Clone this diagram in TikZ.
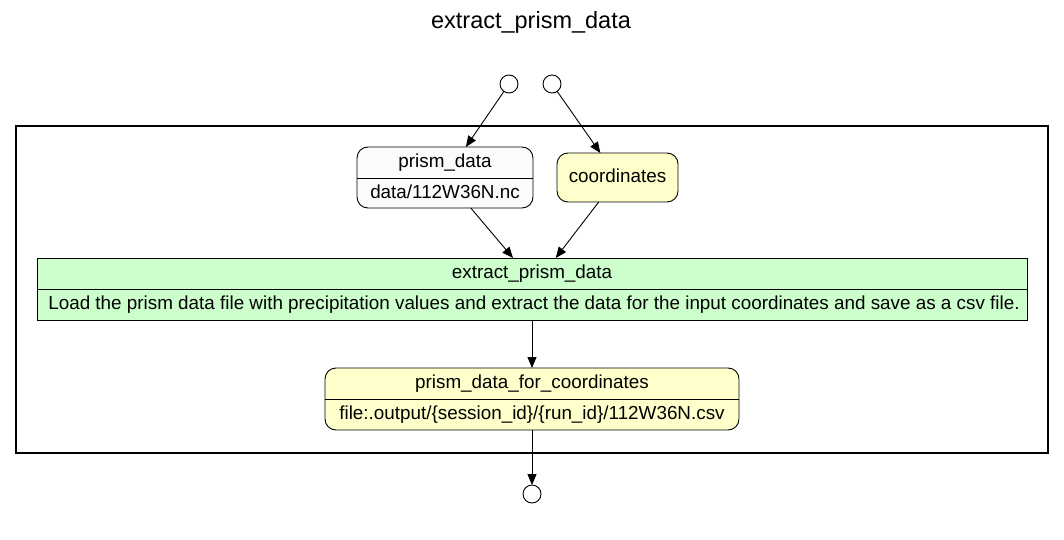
\documentclass[tikz,border=0pt]{standalone}
\usepackage{fontspec}
\setmainfont{Liberation Sans}
\usetikzlibrary{arrows.meta}
\begin{document}
\begin{tikzpicture}[x=1pt,y=-1pt,
  every node/.style={inner sep=0pt, outer sep=0pt},
  box/.style={draw=black, line width=0.9pt, rounded corners=11pt},
  sq/.style={draw=black, line width=0.9pt},
  lbl/.style={font=\fontsize{18.85}{21}\selectfont, text height=13.5pt, text depth=4pt},
  port/.style={circle, draw=black, line width=0.9pt, fill=white, minimum size=18pt},
  arr/.style={draw=black, line width=0.9pt, -{Triangle[length=11pt,width=9pt]}},
  cluster/.style={draw=black, line width=2pt}]
\useasboundingbox (0,0) rectangle (1064,540);
% title
\node[font=\fontsize{23.5}{26}\selectfont] (title) at (531,22) {extract\_prism\_data};
% cluster
\node[cluster, minimum width=1032pt, minimum height=327pt] (clu) at (532,289.5) {};
% input ports
\node[port] (in1) at (509,84) {};
\node[port] (in2) at (552,84) {};
% prism_data
\node[box, fill=black!1.5, minimum width=176pt, minimum height=61pt] (pd) at (445,177.5) {};
\draw[line width=0.9pt] (357,178) -- (533,178);
\node[lbl] (pdt) at (445,163) {prism\_data};
\node[lbl] (pdb) at (445,193.5) {data/112W36N.nc};
% coordinates
\node[box, fill={rgb,255:red,255;green,255;blue,204}, minimum width=121pt, minimum height=49pt] (co) at (617.5,177.5) {};
\node[lbl] (cot) at (617.5,177.5) {coordinates};
% extract_prism_data
\node[sq, fill={rgb,255:red,204;green,255;blue,204}, minimum width=990pt, minimum height=62pt] (ex) at (532,289) {};
\draw[line width=0.9pt] (37,289) -- (1027,289);
\node[lbl] (ext) at (532,273.5) {extract\_prism\_data};
\node[lbl] (exb) at (534,304.5) {Load the prism data file with precipitation values and extract the data for the input coordinates and save as a csv file.};
% prism_data_for_coordinates
\node[box, fill={rgb,255:red,255;green,255;blue,204}, minimum width=414pt, minimum height=62pt] (pf) at (532,399) {};
\draw[line width=0.9pt] (325,399) -- (739,399);
\node[lbl] (pft) at (532,383.5) {prism\_data\_for\_coordinates};
\node[lbl] (pfb) at (532,414.5) {file:.output/\{session\_id\}/\{run\_id\}/112W36N.csv};
% output port
\node[port] (out) at (532,494) {};
% edges
\draw[arr] (in1) -- (pd);
\draw[arr] (in2) -- (co);
\draw[arr] (pd) -- ([xshift=-19pt]ex.north);
\draw[arr] (co) -- (ex);
\draw[arr] (ex) -- (pf);
\draw[arr] (pf) -- (out);
\end{tikzpicture}
\end{document}
